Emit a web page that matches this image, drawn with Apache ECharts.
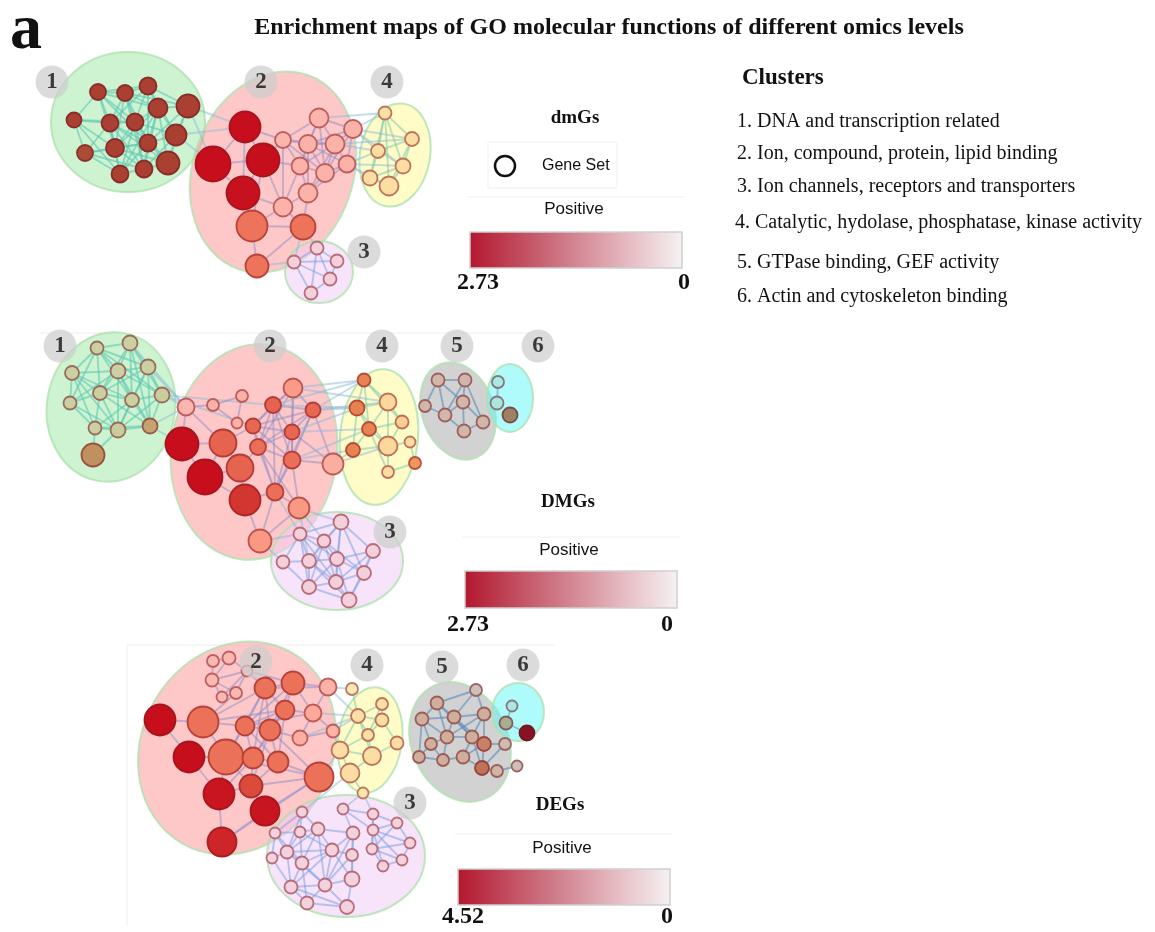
<!DOCTYPE html>
<html><head><meta charset="utf-8">
<script src="https://cdn.jsdelivr.net/npm/echarts@6/dist/echarts.min.js"></script>
<style>html,body{margin:0;padding:0;background:#fff}#c{width:1155px;height:932px}</style>
</head><body><div id="c"></div>
<script>
// ---------------- data ----------------
const titleText = 'Enrichment maps of GO molecular functions of different omics levels';
const panelLetter = 'a';
const clusterHeading = 'Clusters';
const clusterNames = [
  '1. DNA and transcription related',
  '2. Ion, compound, protein, lipid binding',
  '3. Ion channels, receptors and transporters',
  '4. Catalytic, hydolase, phosphatase, kinase activity',
  '5. GTPase binding, GEF activity',
  '6. Actin and cytoskeleton binding'
];
const omicsLevels = ['dmGs', 'DMGs', 'DEGs'];
const scaleMaxLabels = ['2.73', '2.73', '4.52'];
const scaleMax = [2.73, 2.73, 4.52];
const scaleMinLabel = '0';
const legendHeading = 'Positive';
const geneSetLabel = 'Gene Set';

// nodes: [x, y, gene-set size, enrichment score, cluster]
const dmGsNodes = [
  [98,92,15,2.3,1],[125,93,15,2.3,1],[148,86,16,2.3,1],[74,120,14,2.3,1],[110,123,16,2.3,1],
  [135,122,16,2.3,1],[158,108,18,2.3,1],[188,106,22,2.3,1],[85,153,15,2.2,1],[115,148,17,2.3,1],
  [148,143,16,2.3,1],[176,135,20,2.3,1],[120,174,16,2.3,1],[144,169,16,2.3,1],[168,163,22,2.3,1],
  [245,127,30,2.73,2],[213,164,34,2.73,2],[263,160,32,2.73,2],[243,193,32,2.7,2],[252,226,30,1.55,2],
  [303,227,24,1.55,2],[257,266,22,1.55,2],[319,118,18,0.4,2],[353,129,17,0.45,2],[283,140,15,0.4,2],
  [308,144,17,0.45,2],[335,144,18,0.45,2],[300,166,16,0.45,2],[325,173,17,0.45,2],[347,164,16,0.45,2],
  [308,193,18,0.45,2],[283,207,18,0.45,2],
  [385,113,12,0.5,4],[412,139,13,0.55,4],[378,151,13,0.55,4],[403,166,14,0.55,4],[370,178,14,0.55,4],[389,186,18,0.55,4],
  [317,248,12,0.35,3],[294,262,12,0.35,3],[337,261,12,0.35,3],[330,279,12,0.35,3],[311,293,12,0.35,3]
];
const dmGsLinks = '0-1 0-2 0-3 0-4 0-5 0-6 0-9 0-10 1-2 1-4 1-5 1-6 1-7 1-10 1-13 2-5 2-6 2-7 2-11 2-10 3-4 3-5 3-8 3-9 3-12 4-5 4-8 4-9 4-10 4-12 4-13 4-14 5-6 5-9 5-10 5-11 5-12 5-13 5-14 6-7 6-9 6-10 6-11 6-12 6-13 7-10 7-11 7-14 8-9 8-12 8-13 9-10 9-12 9-13 9-14 10-11 10-12 10-13 10-14 11-14 11-13 12-13 13-14 2-4 1-9 6-14 8-10 ' +
  '7-15 11-15 7-16 11-16 ' +
  '15-16 15-17 16-18 17-18 16-17 15-18 18-19 17-19 19-20 19-21 20-21 15-24 17-24 17-27 17-31 18-31 19-31 20-31 20-30 30-31 24-25 24-27 24-31 22-25 22-26 22-23 22-24 23-26 23-29 25-26 25-27 25-28 25-29 26-28 26-29 27-28 27-30 28-29 28-30 29-30 22-27 23-28 26-27 24-28 25-30 22-28 27-31 26-30 23-25 24-26 ' +
  '23-32 23-33 26-34 29-34 29-36 23-34 22-32 29-35 23-35 26-33 29-37 ' +
  '32-33 32-34 32-35 32-36 33-34 33-35 33-37 34-35 34-36 35-36 35-37 36-37 32-37 ' +
  '20-38 20-39 21-39 38-39 38-40 38-41 38-42 39-40 39-41 39-42 40-41 41-42';
// hulls: [cx, cy, rx, ry, tilt(deg, clockwise), cluster]
const dmGsHulls = [[128,122,77,70,0,1],[273,172,80,103,20,2],[395,155,35,52,10,4],[319,272,34,31,0,3]];
const dmGsBadges = [['1',52,82],['2',261,82],['4',387,82],['3',364,252]];

const DMGsNodes = [
  [97,348,12,0.7,1],[130,343,14,0.7,1],[72,373,13,0.7,1],[118,371,14,0.7,1],[148,367,14,0.7,1],
  [100,393,13,0.7,1],[132,400,13,0.7,1],[162,395,14,0.75,1],[70,403,12,0.7,1],[95,428,12,0.7,1],
  [118,430,14,0.75,1],[150,426,14,1.3,1],[93,455,22,1.5,1],
  [186,407,16,0.35,2],[213,405,11,0.5,2],[242,396,11,0.5,2],[237,423,10,0.5,2],[182,444,32,2.73,2],
  [223,443,26,1.75,2],[205,477,34,2.73,2],[240,468,26,1.75,2],[245,500,30,2.3,2],[273,405,15,1.75,2],
  [293,388,18,0.95,2],[253,426,14,1.7,2],[292,432,14,1.7,2],[313,410,14,1.7,2],[258,447,15,1.6,2],
  [292,460,16,1.6,2],[275,492,16,1.6,2],[299,508,20,1.0,2],[260,541,22,1.0,2],[333,464,20,0.6,2],
  [364,380,12,1.7,4],[357,408,14,1.7,4],[388,402,16,0.7,4],[369,429,13,1.7,4],[402,422,12,0.8,4],
  [353,450,13,1.7,4],[388,446,18,0.7,4],[410,442,10,0.6,4],[388,472,11,0.6,4],[415,463,11,1.5,4],
  [438,380,12,0.6,5],[465,380,12,0.6,5],[463,402,12,0.6,5],[425,406,11,0.6,5],[445,415,12,0.6,5],
  [483,422,12,0.6,5],[464,431,12,0.6,5],
  [498,382,11,0.2,6],[497,403,12,0.3,6],[510,415,14,1.7,6],
  [341,522,14,0.35,3],[300,534,12,0.35,3],[324,541,12,0.35,3],[373,551,13,0.35,3],[283,562,12,0.35,3],
  [309,561,13,0.35,3],[337,559,13,0.35,3],[364,573,13,0.35,3],[336,582,13,0.35,3],[309,587,13,0.35,3],
  [349,600,14,0.35,3]
];
const DMGsLinks = '0-1 0-2 0-3 0-4 0-5 0-6 0-7 1-3 1-4 1-5 1-6 1-7 2-3 2-5 2-8 2-9 2-6 3-4 3-5 3-6 3-7 3-8 3-10 3-11 4-6 4-7 4-5 4-10 4-11 5-6 5-8 5-9 5-10 5-11 6-7 6-9 6-10 6-11 7-11 7-10 8-9 8-10 9-10 9-11 10-11 0-8 1-11 2-10 10-12 9-12 ' +
  '4-13 7-13 11-13 1-13 7-22 11-17 7-24 ' +
  '13-14 13-17 14-15 15-16 14-16 13-18 17-18 17-19 18-19 18-20 19-20 19-21 20-21 21-29 20-27 18-24 22-23 22-24 22-25 22-26 22-27 23-24 23-25 23-26 24-25 24-26 24-27 24-28 25-26 25-27 25-28 25-29 26-27 26-28 22-28 27-28 27-29 28-29 28-30 29-30 30-31 29-31 26-32 25-32 28-32 24-29 22-29 23-27 23-28 26-29 21-31 27-30 ' +
  '26-33 23-33 22-33 25-34 28-38 32-38 26-35 25-36 26-34 28-36 23-35 22-34 32-39 ' +
  '33-34 33-35 33-36 34-35 34-36 34-38 35-36 35-37 35-39 36-38 36-39 36-37 37-39 38-39 39-40 39-41 41-42 40-42 33-37 34-39 36-41 ' +
  '43-44 43-46 43-47 44-45 44-47 45-47 45-49 46-47 47-49 48-49 45-48 43-45 44-48 50-51 ' +
  '30-53 31-54 30-55 29-54 31-57 30-58 ' +
  '53-54 53-55 53-56 53-58 53-59 53-60 53-61 54-55 54-57 54-58 54-59 54-62 55-58 55-59 55-61 55-62 56-59 56-60 56-61 56-63 57-58 57-62 58-59 58-61 58-62 58-63 59-60 59-61 59-62 59-63 60-61 60-63 61-62 61-63 62-63 55-60 54-61';
const DMGsHulls = [[111,407,64,75,10,1],[254,452,83,108,7,2],[379,437,39,68,5,4],[458,411,36,50,-20,5],[510,398,23,34,0,6],[337,561,66,49,0,3]];
const DMGsBadges = [['1',60,346],['2',270,346],['4',382,346],['5',457,346],['6',538,346],['3',390,532]];

const DEGsNodes = [
  [213,661,11,0.5,2],[229,658,12,0.5,2],[212,680,12,0.5,2],[247,671,10,0.4,2],[222,697,10,0.5,2],[236,693,11,0.5,2],
  [160,720,30,4.52,2],[203,722,30,2.6,2],[189,757,30,4.52,2],[226,757,34,2.6,2],[219,794,30,4.4,2],
  [265,811,28,4.4,2],[222,842,28,4.1,2],[251,786,22,3.4,2],[253,758,20,2.6,2],[278,762,20,2.6,2],
  [265,688,20,2.6,2],[293,683,22,2.6,2],[285,710,18,2.6,2],[245,726,18,2.6,2],[270,730,20,2.6,2],
  [313,713,16,1.2,2],[300,738,14,1.0,2],[328,687,16,0.8,2],[333,731,12,0.8,2],[319,777,28,2.6,2],
  [352,689,11,0.4,4],[358,716,13,0.9,4],[382,704,11,0.9,4],[382,720,12,0.9,4],[368,735,11,0.9,4],
  [397,743,12,0.9,4],[340,750,16,0.9,4],[372,756,17,0.9,4],[350,773,18,0.9,4],[363,793,10,0.6,4],
  [476,690,11,0.5,5],[437,703,12,1.3,5],[422,719,12,1.3,5],[454,717,12,1.3,5],[484,714,12,1.3,5],
  [447,737,12,1.3,5],[472,737,12,1.3,5],[431,744,11,1.3,5],[484,744,13,2.4,5],[505,744,11,0.8,5],
  [419,757,11,1.3,5],[443,760,11,1.3,5],[463,757,12,1.3,5],[482,768,13,2.7,5],[497,771,11,1.1,5],[517,766,10,0.6,5],
  [512,706,10,0.4,6],[506,723,12,2.0,6],[527,733,14,4.52,6],
  [302,812,10,0.5,3],[343,809,10,0.5,3],[373,814,10,0.5,3],[397,823,10,0.5,3],[275,833,10,0.5,3],
  [300,832,10,0.5,3],[318,829,12,0.5,3],[353,833,12,0.5,3],[373,830,10,0.5,3],[410,843,10,0.5,3],
  [372,849,10,0.5,3],[287,852,12,0.5,3],[332,850,12,0.5,3],[352,855,11,0.5,3],[402,860,10,0.5,3],
  [272,858,10,0.5,3],[302,863,12,0.5,3],[383,866,10,0.5,3],[291,887,12,0.5,3],[325,885,12,0.5,3],
  [352,879,14,0.5,3],[307,903,12,0.5,3],[347,907,13,0.5,3]
];
const DEGsLinks = '0-1 0-2 1-3 1-2 2-3 3-4 3-5 2-4 2-5 4-5 3-16 3-17 5-7 ' +
  '6-8 8-10 10-12 6-7 7-9 8-9 9-10 9-13 10-13 11-13 11-12 13-14 9-14 7-16 7-19 14-15 16-17 16-18 17-18 18-20 19-20 14-19 15-20 13-15 16-19 17-21 18-21 20-22 21-22 17-23 21-24 22-24 15-25 13-25 9-25 20-25 18-19 16-20 17-20 15-19 14-20 9-19 9-16 10-14 13-20 14-16 15-18 19-21 14-18 17-19 12-25 11-25 16-23 23-21 7-18 ' +
  '23-26 24-27 21-27 24-32 25-32 22-27 23-27 ' +
  '26-27 27-28 27-30 28-29 29-30 29-31 30-32 30-33 32-33 32-34 33-34 34-35 27-32 27-29 28-30 31-33 27-33 ' +
  '35-57 35-56 34-55 ' +
  '36-37 36-39 36-40 37-38 37-39 37-41 38-39 38-41 38-43 39-40 39-41 39-42 40-42 40-44 41-42 41-43 41-47 42-44 42-48 43-46 43-47 44-45 44-48 44-49 45-49 46-47 47-48 48-49 49-50 50-51 39-44 37-42 40-41 38-46 42-49 ' +
  '52-53 53-54 ' +
  '55-60 55-61 55-59 59-60 59-66 59-70 60-61 60-66 60-71 61-62 61-67 61-66 61-71 62-67 62-68 62-75 66-70 66-71 66-73 66-74 67-68 67-71 67-74 67-75 68-75 70-73 71-73 71-74 71-76 73-74 73-76 74-75 74-76 74-77 75-77 76-77 60-67 61-74 66-67 62-74 73-77 55-66 59-71 68-74 67-73 ' +
  '56-57 57-63 57-58 58-63 58-64 63-64 63-65 64-65 64-69 65-69 65-72 69-72 63-72 58-65 57-65 63-69 56-62 56-63';
const DEGsHulls = [[237,748,95,110,30,2],[370,740,32,53,8,4],[460,742,48,62,-25,5],[518,712,26,29,0,6],[346,856,79,61,0,3]];
const DEGsBadges = [['2',256,662],['4',367,665],['5',442,667],['6',523,665],['3',410,803]];

// ---------------- styling helpers ----------------
const SCALE_STOPS = [[0,[247,247,247]],[0.25,[253,219,199]],[0.5,[244,165,130]],[0.75,[218,96,77]],[1,[198,18,36]]];
const HULL_PALE = {1:[205,243,208],2:[255,200,200],3:[248,228,250],4:[255,252,200],5:[210,210,210],6:[175,250,250]};
const EDGE_COL = {1:'rgba(95,200,180,0.6)',2:'rgba(140,140,200,0.5)',3:'rgba(130,160,225,0.55)',4:'rgba(130,200,175,0.55)',5:'rgba(90,140,185,0.6)',6:'rgba(110,160,185,0.6)'};
const EDGE_INTER = 'rgba(140,185,215,0.5)';

function scaleColor(t){
  t = Math.max(0, Math.min(1, t));
  for (let i = 1; i < SCALE_STOPS.length; i++){
    const [t1,c1] = SCALE_STOPS[i], [t0,c0] = SCALE_STOPS[i-1];
    if (t <= t1){ const f = (t - t0)/(t1 - t0); return c0.map((v,k)=>v + (c1[k]-v)*f); }
  }
  return SCALE_STOPS[SCALE_STOPS.length-1][1];
}
const mul = (c,h) => c.map((v,i)=>Math.round(v*h[i]/255));
const mix = (a,b,f) => a.map((v,i)=>Math.round(v*(1-f)+b[i]*f));
const rgb = c => `rgb(${c[0]},${c[1]},${c[2]})`;
const parseLinks = s => s.trim().split(/\s+/).map(p => p.split('-').map(Number));

function graphSeries(nodes, linkStr, max){
  const data = nodes.map(n => {
    const h = HULL_PALE[n[4]];
    const fill = mul(scaleColor(n[3]/max), h);
    const border = mix(fill, mul([140,30,40], h), 0.55);
    return {value:[n[0], n[1]], symbolSize:n[2] + 1, itemStyle:{color:rgb(fill), borderColor:rgb(border), borderWidth:1.8}};
  });
  const links = parseLinks(linkStr).map(([a,b]) => {
    const ca = nodes[a][4], cb = nodes[b][4];
    return {source:a, target:b, lineStyle:{color: ca===cb ? EDGE_COL[ca] : EDGE_INTER, width:1.9}};
  });
  return {type:'graph', coordinateSystem:'cartesian2d', z:2, silent:true, symbol:'circle',
    data, links, lineStyle:{curveness:0, opacity:1}, label:{show:false}, emphasis:{disabled:true}};
}
function hullSeries(hulls){
  return {type:'custom', coordinateSystem:'cartesian2d', z:1, silent:true, data:hulls,
    renderItem:(params, api) => {
      const c = api.coord([api.value(0), api.value(1)]);
      const o = api.coord([0,0]);
      const e = api.coord([api.value(2), api.value(3)]);
      const pale = HULL_PALE[api.value(5)];
      const base = pale.map(v => Math.max(0, 2*v - 255));
      return {type:'ellipse', x:c[0], y:c[1], rotation:-api.value(4)*Math.PI/180,
        shape:{cx:0, cy:0, rx:Math.abs(e[0]-o[0]), ry:Math.abs(e[1]-o[1])},
        style:{fill:`rgba(${base[0]},${base[1]},${base[2]},0.5)`, stroke:'rgba(175,225,175,0.8)', lineWidth:2}};
    }};
}
function badgeSeries(badges){
  return {type:'scatter', z:3, silent:true, symbolSize:33, data:badges.map(b=>[b[1], b[2], b[0]]),
    itemStyle:{color:'rgba(205,205,205,0.9)'},
    label:{show:true, position:'inside', formatter:p=>p.value[2], fontFamily:'Liberation Serif', fontWeight:'bold', fontSize:23, color:'#111'}};
}

const SERIF = 'Liberation Serif', SANS = 'Liberation Sans';
function txt(text, x, y, size, opts){
  opts = opts || {};
  return {type:'text', z:10, silent:true, style:{text, x, y, fill:opts.fill||'#111',
    font:`${opts.weight||'normal'} ${size}px "${opts.family||SERIF}"`,
    textAlign:opts.align||'center', textVerticalAlign:'middle', align:opts.align||'center', verticalAlign:'middle'}};
}
// L: {tx, ty, geneY, lineY, posY, barX, barY, barH, labY, maxX, minX}
function scaleLegend(i, L){
  const els = [];
  els.push(txt(omicsLevels[i], L.tx, L.ty, 19, {weight:'bold'}));
  if (L.geneY){
    els.push({type:'rect', z:9, silent:true, shape:{x:488, y:L.geneY-24, width:129, height:46}, style:{fill:'none', stroke:'#f1f1f1', lineWidth:1}});
    els.push({type:'circle', z:10, silent:true, shape:{cx:505, cy:L.geneY, r:10}, style:{fill:'none', stroke:'#111', lineWidth:2.5}});
    els.push(txt(geneSetLabel, 542, L.geneY, 16, {family:SANS, align:'left'}));
  }
  els.push({type:'line', z:9, silent:true, shape:{x1:L.barX-3, y1:L.lineY, x2:L.barX+215, y2:L.lineY}, style:{stroke:'#f1f1f1', lineWidth:1}});
  els.push(txt(legendHeading, L.barX+104, L.posY, 17, {family:SANS}));
  els.push({type:'rect', z:10, silent:true, shape:{x:L.barX, y:L.barY, width:212, height:L.barH},
    style:{stroke:'#cfcfcf', lineWidth:1.5, fill:{type:'linear', x:0, y:0, x2:1, y2:0, colorStops:[
      {offset:0, color:'#b3172e'},{offset:0.45, color:'#cf7b89'},{offset:0.75, color:'#e6bcc3'},{offset:1, color:'#f5f2f2'}]}}});
  els.push(txt(scaleMaxLabels[i], L.maxX, L.labY, 24, {weight:'bold'}));
  els.push(txt(scaleMinLabel, L.minX, L.labY, 24, {weight:'bold'}));
  return els;
}

const graphics = [];
graphics.push(txt(panelLetter, 26, 31, 64, {weight:'bold'}));
graphics.push(txt(titleText, 609, 28, 24, {weight:'bold'}));
graphics.push(txt(clusterHeading, 742, 78, 23, {weight:'bold', align:'left'}));
const listY = [122, 154, 187, 223, 263, 297];
clusterNames.forEach((s, i) => graphics.push(txt(s, i===3 ? 735 : 737, listY[i], 20, {align:'left'})));
graphics.push(...scaleLegend(0, {tx:575, ty:118, geneY:166, lineY:197, posY:209, barX:470, barY:232, barH:36, labY:283, maxX:478, minX:684}));
graphics.push(...scaleLegend(1, {tx:568, ty:502, lineY:537, posY:550, barX:465, barY:571, barH:37, labY:625, maxX:468, minX:667}));
graphics.push(...scaleLegend(2, {tx:560, ty:805, lineY:834, posY:848, barX:458, barY:869, barH:36, labY:917, maxX:463, minX:667}));
// faint panel frames
graphics.push({type:'polyline', z:0, silent:true, shape:{points:[[40,333],[548,333]]}, style:{stroke:'#eeeeee', lineWidth:1, fill:'none'}});
graphics.push({type:'polyline', z:0, silent:true, shape:{points:[[127,925],[127,645],[555,645]]}, style:{stroke:'#eeeeee', lineWidth:1, fill:'none'}});

const chart = echarts.init(document.getElementById('c'), null, {renderer:'canvas'});
chart.setOption({
  animation:false,
  backgroundColor:'#ffffff',
  grid:{left:0, top:0, width:1155, height:932, containLabel:false},
  xAxis:{type:'value', min:0, max:1155, show:false},
  yAxis:{type:'value', min:0, max:932, inverse:true, show:false},
  graphic:{elements:graphics},
  series:[
    hullSeries(dmGsHulls), graphSeries(dmGsNodes, dmGsLinks, scaleMax[0]), badgeSeries(dmGsBadges),
    hullSeries(DMGsHulls), graphSeries(DMGsNodes, DMGsLinks, scaleMax[1]), badgeSeries(DMGsBadges),
    hullSeries(DEGsHulls), graphSeries(DEGsNodes, DEGsLinks, scaleMax[2]), badgeSeries(DEGsBadges)
  ]
});
</script></body></html>
